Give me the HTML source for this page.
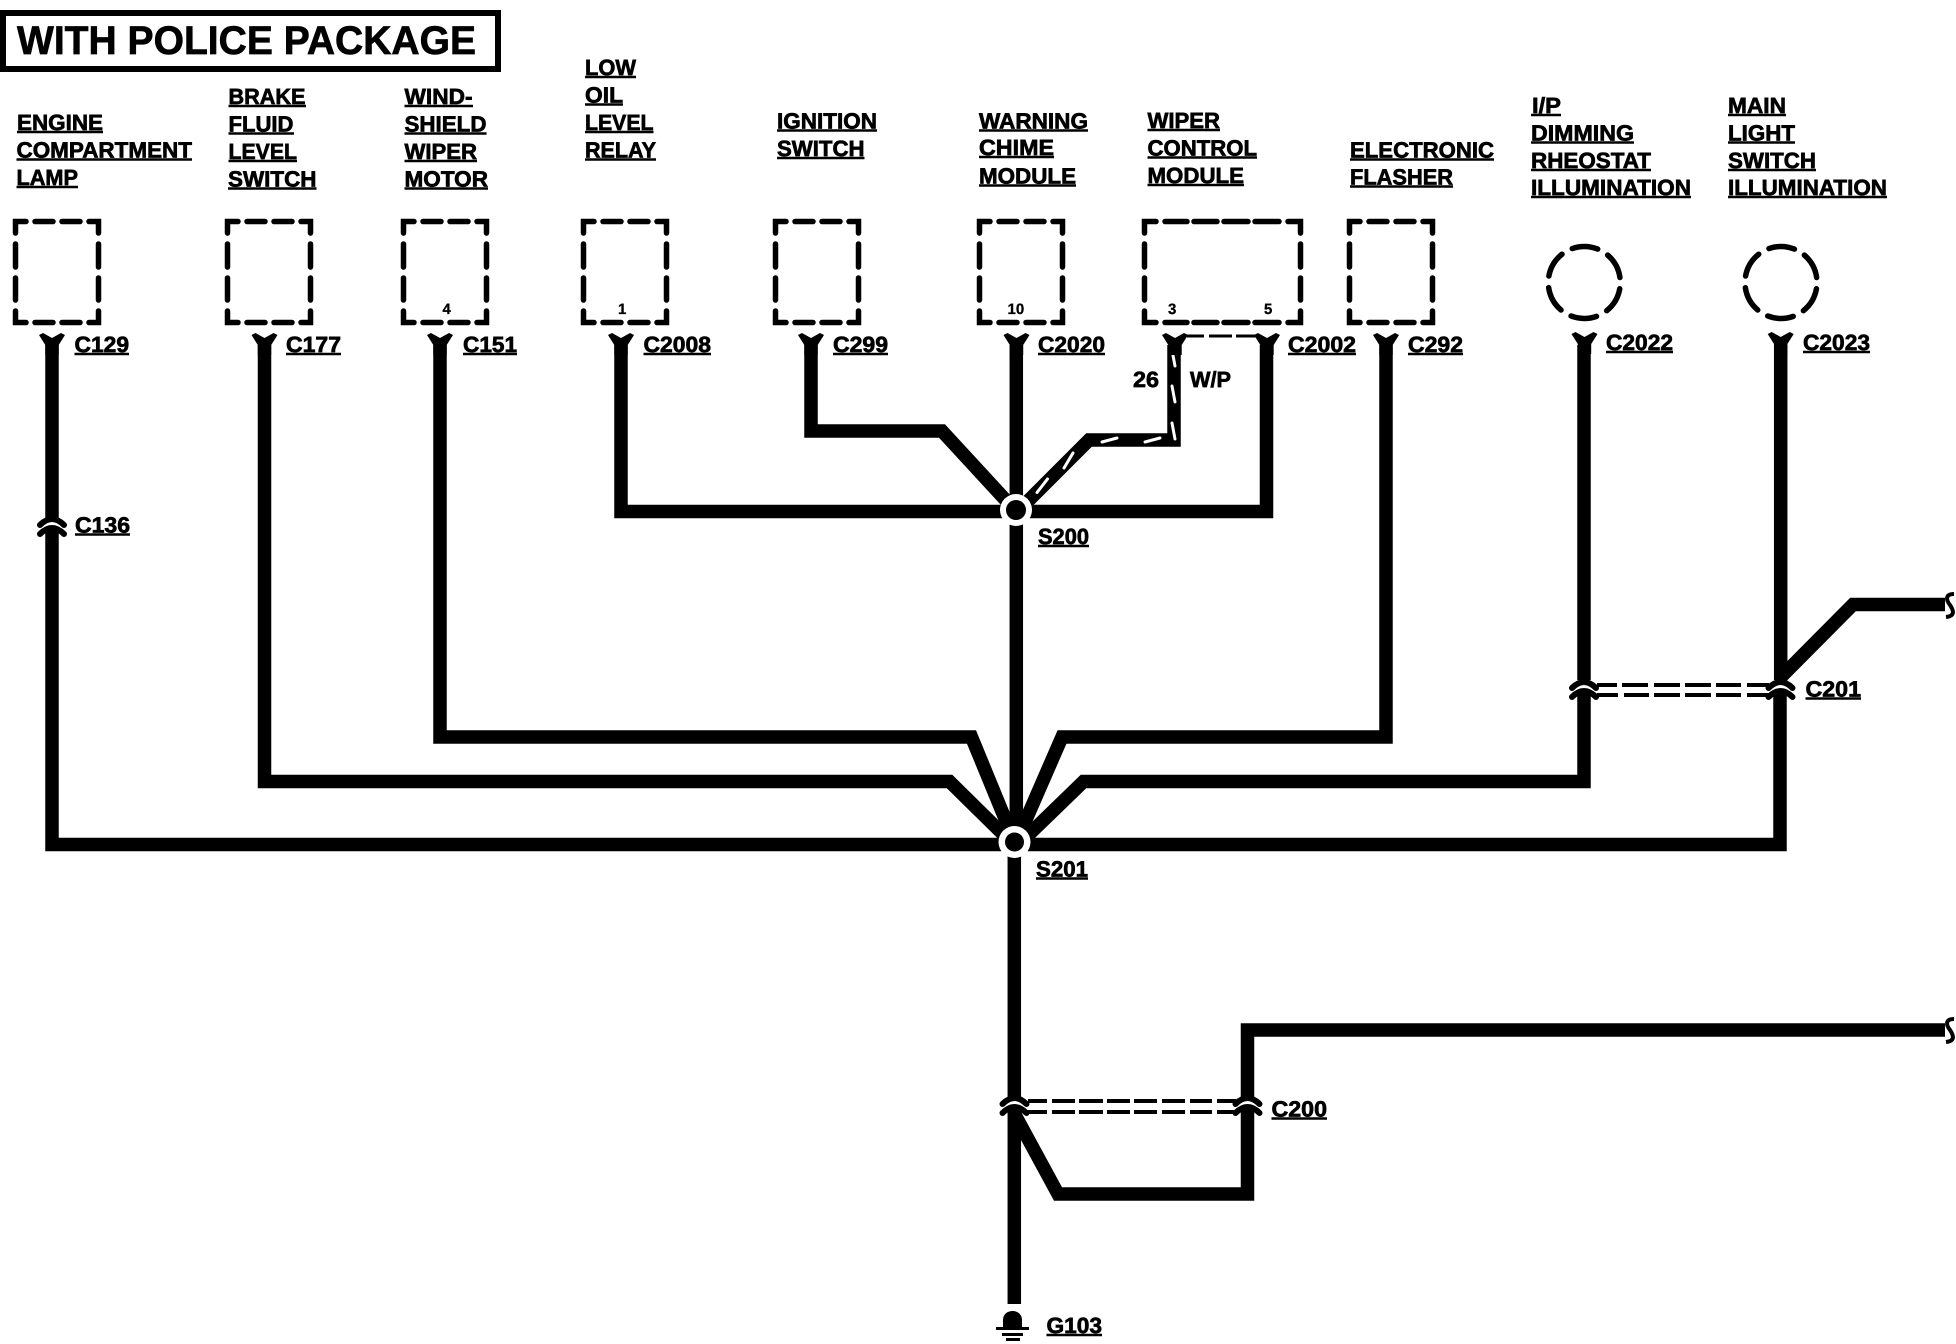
<!DOCTYPE html>
<html><head><meta charset="utf-8"><style>
html,body{margin:0;padding:0;background:#fff;width:1956px;height:1344px;overflow:hidden}
svg{display:block}
text{font-family:"Liberation Sans",sans-serif;font-weight:700;font-size:22px;fill:#000;stroke:#000;stroke-width:.7px;text-rendering:geometricPrecision}
.w{fill:none;stroke:#000;stroke-width:13.5;stroke-linejoin:miter;stroke-linecap:butt}
.b{fill:none;stroke:#000;stroke-width:5.5;stroke-linecap:round;stroke-linejoin:miter}
.n{font-size:15px;stroke-width:.3px}
</style></head><body>
<svg width="1956" height="1344" viewBox="0 0 1956 1344" xmlns="http://www.w3.org/2000/svg">
<defs>
<g id="box"><path class="b" d="M2.5 14V2.5H13M22 2.5H40M49 2.5H67M76 2.5H85.5V14M85.5 25V48M85.5 59V81M85.5 92V103.5H76M67 103.5H49M40 103.5H22M13 103.5H2.5V92M2.5 81V59M2.5 48V25"/></g>
<path id="y" d="M-13 2L-9 0L0 5L9 0L13 2L6.7 12V22H-6.7V12Z" fill="#000"/>
<g id="cn"><path d="M-12 7Q0 -5 12 7" fill="none" stroke="#fff" stroke-width="5"/><path d="M-12 3Q0 -9 12 3M-12 12Q0 0 12 12" fill="none" stroke="#000" stroke-width="6" stroke-linecap="round"/></g>
<circle id="cir" r="36" fill="none" stroke="#000" stroke-width="5.5" stroke-linecap="round" stroke-dasharray="26 11.7" stroke-dashoffset="-6.3"/>
<path id="sq" d="M9 0C0 0 1 6 5 11C9 17 10 22 1 23" fill="none" stroke="#000" stroke-width="4"/>
</defs>

<!-- title -->
<rect x="3" y="13" width="495" height="56" fill="none" stroke="#000" stroke-width="6"/>
<text x="17" y="54" style="font-size:40px" textLength="459" lengthAdjust="spacingAndGlyphs">WITH POLICE PACKAGE</text>

<!-- boxes -->
<use href="#box" x="13" y="219"/><use href="#box" x="225" y="219"/><use href="#box" x="401" y="219"/><use href="#box" x="581" y="219"/><use href="#box" x="773" y="219"/><use href="#box" x="977" y="219"/><use href="#box" x="1347" y="219"/>
<path class="b" d="M1144.5 233V221.5H1156M1165 221.5H1187M1194 221.5H1217M1224 221.5H1248M1255 221.5H1279M1288 221.5H1300.5V233M1300.5 244V267M1300.5 278V300M1300.5 311V322.5H1288M1279 322.5H1255M1248 322.5H1224M1217 322.5H1194M1187 322.5H1165M1156 322.5H1144.5V311M1144.5 300V278M1144.5 267V244"/>
<use href="#cir" x="1584.3" y="282.5"/><use href="#cir" x="1781" y="282.5"/>

<!-- wires -->
<path class="w" d="M52 345V844.5H1780V690"/>
<path class="w" d="M264.5 345V781.5H949.5L1012 843"/>
<path class="w" d="M440 345V737H971.5L1013 838"/>
<path class="w" d="M1386 345V737H1062L1018 838"/>
<path class="w" d="M1584 345V680"/>
<path class="w" d="M1584 690V781.5H1083.5L1020 843"/>
<path class="w" d="M1780.7 345V680"/>
<path class="w" d="M1945 604.5H1853L1781 677"/>
<path class="w" d="M621 345V511.5H1266.5V345"/>
<path class="w" d="M811 345V431H942L1012 507"/>
<path class="w" d="M1016.3 345V845"/>
<path class="w" d="M1014.3 840V1304"/>
<path class="w" d="M1174 345V440H1089L1020 509"/>
<path class="w" d="M1945 1030H1247.5V1100"/>
<path class="w" d="M1247.5 1110V1194H1058L1014 1113"/>

<!-- white tracer -->
<path d="M1172 350L1175 366M1172 386L1175 402M1172 423L1175 439M1102 442L1117 438M1145 442L1160 438M1064 468L1073 453M1037 492.5L1047.5 479" fill="none" stroke="#fff" stroke-width="3" stroke-linecap="round"/>

<!-- Y connectors -->
<use href="#y" x="52" y="333"/><use href="#y" x="264.5" y="333"/><use href="#y" x="440" y="333"/><use href="#y" x="621" y="333"/><use href="#y" x="811" y="333"/><use href="#y" x="1016.5" y="333"/><use href="#y" x="1175" y="333"/><use href="#y" x="1267" y="333"/><use href="#y" x="1386" y="333"/><use href="#y" x="1584.5" y="332"/><use href="#y" x="1780.7" y="332"/>
<path d="M1187 336H1204M1209 336H1232M1236 336H1258" fill="none" stroke="#000" stroke-width="3"/>

<!-- inline connectors -->
<use href="#cn" x="52" y="522"/>
<use href="#cn" x="1584" y="685"/><use href="#cn" x="1780.5" y="685"/>
<use href="#cn" x="1014.5" y="1101"/><use href="#cn" x="1247.5" y="1101"/>
<path d="M1597 685H1617M1622 685H1648M1654 685H1680M1685 685H1711M1716 685H1741M1747 685H1769M1597 695H1618M1624 695H1649M1654 695H1680M1685 695H1711M1716 695H1741M1747 695H1769" fill="none" stroke="#000" stroke-width="4"/>
<path d="M1028 1101H1047M1052 1101H1075M1079 1101H1103M1107 1101H1130M1134 1101H1157M1162 1101H1185M1190 1101H1212M1217 1101H1236M1028 1112H1047M1052 1112H1075M1079 1112H1103M1107 1112H1130M1134 1112H1157M1162 1112H1185M1190 1112H1212M1217 1112H1236" fill="none" stroke="#000" stroke-width="4"/>

<!-- splices -->
<circle cx="1016" cy="510" r="16" fill="#fff"/><circle cx="1016" cy="510" r="10" fill="#000"/>
<circle cx="1014.5" cy="842" r="16" fill="#fff"/><circle cx="1014.5" cy="842" r="9.5" fill="#000"/>

<!-- wire ends -->
<use href="#sq" x="1945" y="594"/><use href="#sq" x="1945" y="1019"/>

<!-- ground -->
<path d="M1003 1327V1320C1003 1308 1022 1308 1022 1320V1327Z" fill="#000"/>
<path d="M996 1328.5H1029M1002 1334.5H1023M1006 1339.5H1020" fill="none" stroke="#000" stroke-width="3"/>

<!-- underlines -->
<path fill="none" stroke="#000" stroke-width="2.5" d="M17 132H103M16.5 159.5H192M16.5 187H78M228.5 106H306M228.5 133.5H294M228.5 161H297M228 188.5H316.5M404.5 106H473M404.5 133.5H486.5M404.5 161H477M404.5 188.5H488M585 77H636M585 104.5H623M585 132H653.5M585 159.5H656M777 130.5H877M777 158H864.5M979 130.5H1088M979 157H1054M979 185.5H1076M1147.5 130H1220M1147.5 157.5H1257M1147.5 185H1244M1350 159.5H1494M1350 186.5H1453M1531 115H1561M1531 142.5H1634M1531 170H1651M1531 197H1691M1728 115H1786M1728 142.5H1795M1728 170H1816M1728 197H1887M74.5 354H129M286 354H341M463 354H517M643.5 354H711M833 354H888M1038 354H1105M1288 354H1356M1408 354H1463M1606 352H1673M1803 352H1870M75 534.5H130M1038 546H1089M1036 878.5H1088M1805.5 698.5H1861M1271.5 1118.5H1327M1046.5 1335H1102"/>

<!-- labels -->
<text x="17" y="130" textLength="86" lengthAdjust="spacingAndGlyphs">ENGINE</text>
<text x="16.5" y="157.5" textLength="175.5" lengthAdjust="spacingAndGlyphs">COMPARTMENT</text>
<text x="16.5" y="185" textLength="61.5" lengthAdjust="spacingAndGlyphs">LAMP</text>
<text x="228.5" y="104" textLength="77" lengthAdjust="spacingAndGlyphs">BRAKE</text>
<text x="228.5" y="131.5" textLength="65" lengthAdjust="spacingAndGlyphs">FLUID</text>
<text x="228.5" y="159" textLength="68.5" lengthAdjust="spacingAndGlyphs">LEVEL</text>
<text x="228" y="186.5" textLength="88.5" lengthAdjust="spacingAndGlyphs">SWITCH</text>
<text x="404.5" y="104" textLength="68" lengthAdjust="spacingAndGlyphs">WIND-</text>
<text x="404.5" y="131.5" textLength="82" lengthAdjust="spacingAndGlyphs">SHIELD</text>
<text x="404.5" y="159" textLength="72.5" lengthAdjust="spacingAndGlyphs">WIPER</text>
<text x="404.5" y="186.5" textLength="83.5" lengthAdjust="spacingAndGlyphs">MOTOR</text>
<text x="585" y="75" textLength="51" lengthAdjust="spacingAndGlyphs">LOW</text>
<text x="585" y="102.5" textLength="38" lengthAdjust="spacingAndGlyphs">OIL</text>
<text x="585" y="130" textLength="68.5" lengthAdjust="spacingAndGlyphs">LEVEL</text>
<text x="585" y="157.5" textLength="71" lengthAdjust="spacingAndGlyphs">RELAY</text>
<text x="777" y="128.5" textLength="100" lengthAdjust="spacingAndGlyphs">IGNITION</text>
<text x="777" y="156" textLength="87.5" lengthAdjust="spacingAndGlyphs">SWITCH</text>
<text x="979" y="128.5" textLength="109" lengthAdjust="spacingAndGlyphs">WARNING</text>
<text x="979" y="155" textLength="75" lengthAdjust="spacingAndGlyphs">CHIME</text>
<text x="979" y="183.5" textLength="97" lengthAdjust="spacingAndGlyphs">MODULE</text>
<text x="1147.5" y="128" textLength="72.5" lengthAdjust="spacingAndGlyphs">WIPER</text>
<text x="1147.5" y="155.5" textLength="109.5" lengthAdjust="spacingAndGlyphs">CONTROL</text>
<text x="1147.5" y="183" textLength="96.5" lengthAdjust="spacingAndGlyphs">MODULE</text>
<text x="1350" y="157.5" textLength="144" lengthAdjust="spacingAndGlyphs">ELECTRONIC</text>
<text x="1350" y="184.5" textLength="103" lengthAdjust="spacingAndGlyphs">FLASHER</text>
<text x="1532" y="113" textLength="29" lengthAdjust="spacingAndGlyphs">I/P</text>
<text x="1531" y="140.5" textLength="103" lengthAdjust="spacingAndGlyphs">DIMMING</text>
<text x="1531" y="168" textLength="120" lengthAdjust="spacingAndGlyphs">RHEOSTAT</text>
<text x="1531" y="195" textLength="160" lengthAdjust="spacingAndGlyphs">ILLUMINATION</text>
<text x="1728" y="113" textLength="58" lengthAdjust="spacingAndGlyphs">MAIN</text>
<text x="1728" y="140.5" textLength="67" lengthAdjust="spacingAndGlyphs">LIGHT</text>
<text x="1728" y="168" textLength="88" lengthAdjust="spacingAndGlyphs">SWITCH</text>
<text x="1728" y="195" textLength="159" lengthAdjust="spacingAndGlyphs">ILLUMINATION</text>

<text x="74.5" y="352" textLength="54.5" lengthAdjust="spacingAndGlyphs">C129</text>
<text x="286" y="352" textLength="55" lengthAdjust="spacingAndGlyphs">C177</text>
<text x="463" y="352" textLength="54" lengthAdjust="spacingAndGlyphs">C151</text>
<text x="643.5" y="352" textLength="67.5" lengthAdjust="spacingAndGlyphs">C2008</text>
<text x="833" y="352" textLength="55" lengthAdjust="spacingAndGlyphs">C299</text>
<text x="1038" y="352" textLength="67" lengthAdjust="spacingAndGlyphs">C2020</text>
<text x="1288" y="352" textLength="68" lengthAdjust="spacingAndGlyphs">C2002</text>
<text x="1408" y="352" textLength="55" lengthAdjust="spacingAndGlyphs">C292</text>
<text x="1606" y="350" textLength="67" lengthAdjust="spacingAndGlyphs">C2022</text>
<text x="1803" y="350" textLength="67" lengthAdjust="spacingAndGlyphs">C2023</text>
<text x="75" y="532.5" textLength="55" lengthAdjust="spacingAndGlyphs">C136</text>
<text x="1038" y="544" textLength="51" lengthAdjust="spacingAndGlyphs">S200</text>
<text x="1036" y="876.5" textLength="52" lengthAdjust="spacingAndGlyphs">S201</text>
<text x="1805.5" y="696.5" textLength="55.5" lengthAdjust="spacingAndGlyphs">C201</text>
<text x="1271.5" y="1116.5" textLength="55.5" lengthAdjust="spacingAndGlyphs">C200</text>
<text x="1046.5" y="1333" textLength="55.5" lengthAdjust="spacingAndGlyphs">G103</text>

<text x="1133" y="387" textLength="26" lengthAdjust="spacingAndGlyphs">26</text>
<text x="1190" y="387" textLength="41" lengthAdjust="spacingAndGlyphs">W/P</text>
<text class="n" x="442.5" y="314">4</text>
<text class="n" x="618" y="314">1</text>
<text class="n" x="1007.5" y="314">10</text>
<text class="n" x="1168" y="314">3</text>
<text class="n" x="1264" y="314">5</text>
</svg>
</body></html>
